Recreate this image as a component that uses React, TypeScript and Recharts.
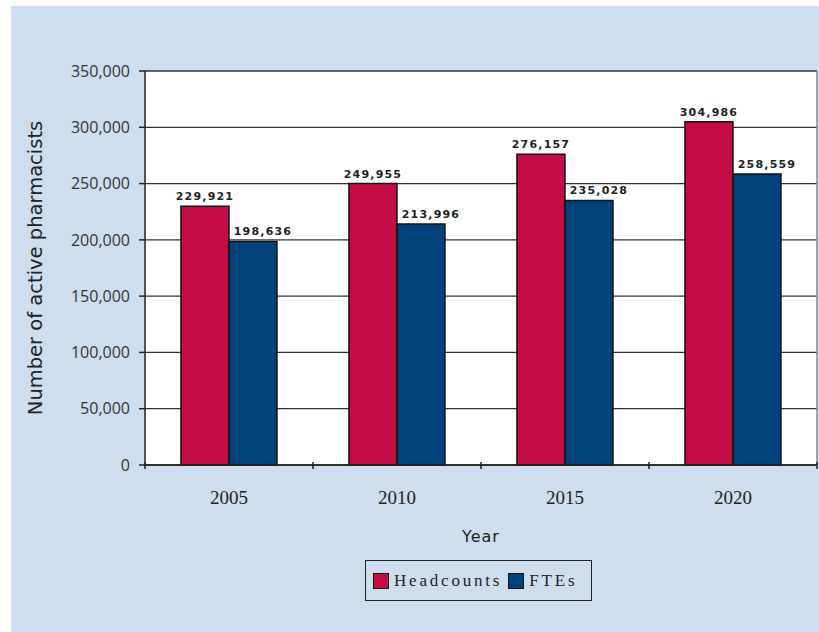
import React from 'react';
import {
  BarChart,
  Bar,
  XAxis,
  YAxis,
  CartesianGrid,
  Legend,
  LabelList,
} from 'recharts';

// values
const years = ['2005', '2010', '2015', '2020'];
const headcounts = [229921, 249955, 276157, 304986];
const ftes = [198636, 213996, 235028, 258559];
const yTicks = [0, 50000, 100000, 150000, 200000, 250000, 300000, 350000];

const series = [
  { key: 'headcounts', name: 'Headcounts', color: '#C50D45', labelShift: 0 },
  { key: 'ftes', name: 'FTEs', color: '#02427A', labelShift: 10 },
];

const data = years.map((year, i) => ({
  year,
  headcounts: headcounts[i],
  ftes: ftes[i],
}));

const fmt = (v: number) => v.toLocaleString('en-US');

// category label plus Excel-style ticks on the band edges
const YearTick = (props: any) => {
  const { x, y, payload, width, visibleTicksCount, index } = props;
  const band = width / visibleTicksCount;
  const left = x - band / 2;
  const right = x + band / 2;
  return (
    <g>
      <line x1={left} x2={left} y1={y - 3} y2={y + 4} stroke="#222" strokeWidth={1.5} />
      {index === visibleTicksCount - 1 && (
        <line x1={right} x2={right} y1={y - 3} y2={y + 4} stroke="#222" strokeWidth={1.5} />
      )}
      <text
        x={x}
        y={y + 32}
        textAnchor="middle"
        dominantBaseline="central"
        fontFamily="'Liberation Serif', serif"
        fontSize={19}
        fill="#222"
      >
        {payload.value}
      </text>
    </g>
  );
};

const ValueLabel = (props: any) => {
  const { x, y, width, value, shift = 0 } = props;
  return (
    <text
      x={x + width / 2 + shift}
      y={y - 6}
      textAnchor="middle"
      fontFamily="'DejaVu Sans', sans-serif"
      fontSize={11}
      fontWeight="bold"
      letterSpacing={1.2}
      fill="#222"
    >
      {fmt(value)}
    </text>
  );
};

const LegendBox = () => (
  <div
    style={{
      boxSizing: 'border-box',
      width: 227,
      height: 41,
      border: '1.5px solid #222',
      display: 'flex',
      alignItems: 'center',
      paddingLeft: 7,
      fontFamily: "'Liberation Serif', serif",
      fontSize: 17,
      letterSpacing: 2.8,
      color: '#222',
    }}
  >
    {series.map((s) => (
      <span key={s.key} style={{ display: 'flex', alignItems: 'center', marginRight: 6 }}>
        <span
          style={{
            display: 'inline-block',
            width: 14,
            height: 14,
            background: s.color,
            border: '1.5px solid #111',
            marginRight: 5,
          }}
        />
        {s.name}
      </span>
    ))}
  </div>
);

export default function App() {
  return (
    <div style={{ position: 'absolute', left: 0, top: 0, width: 819, height: 632, background: '#fff' }}>
      <div
        style={{ position: 'absolute', left: 11, top: 6, right: 0, bottom: 0, background: '#CFDEEE' }}
      />
      <div style={{ position: 'absolute', left: 0, top: 0 }}>
        <BarChart
          width={819}
          height={632}
          data={data}
          margin={{ top: 71, right: 2, left: 0, bottom: 0 }}
          barCategoryGap="21.4%"
          barGap={0}
        >
          <CartesianGrid vertical={false} stroke="#333" strokeWidth={1.3} fill="#fff" fillOpacity={1} />
          <CartesianGrid
            horizontal={false}
            stroke="#888"
            strokeWidth={1.5}
            verticalCoordinatesGenerator={({ offset }: any) => [offset.left + offset.width]}
          />
          <XAxis
            dataKey="year"
            height={167}
            tickLine={false}
            tickSize={0}
            tickMargin={0}
            axisLine={{ stroke: '#222', strokeWidth: 1.5 }}
            tick={<YearTick />}
            interval={0}
            label={({ viewBox }: any) => (
              <text
                x={viewBox.x + viewBox.width / 2}
                y={viewBox.y + 71}
                textAnchor="middle"
                dominantBaseline="central"
                fontFamily="'DejaVu Sans', sans-serif"
                fontSize={16}
                letterSpacing={1}
                fill="#222"
              >
                Year
              </text>
            )}
          />
          <YAxis
            width={145}
            domain={[0, 350000]}
            ticks={yTicks}
            interval={0}
            tickFormatter={fmt}
            tickSize={6}
            tickMargin={9}
            axisLine={{ stroke: '#222', strokeWidth: 1.5 }}
            tickLine={{ stroke: '#222', strokeWidth: 1.5 }}
            tick={{ fontFamily: "'Open Sans', sans-serif", fontSize: 16, fill: '#333' }}
            label={({ viewBox }: any) => (
              <text
                x={viewBox.x + 35}
                y={viewBox.y + viewBox.height / 2}
                transform={`rotate(-90 ${viewBox.x + 35} ${viewBox.y + viewBox.height / 2})`}
                textAnchor="middle"
                dominantBaseline="central"
                fontFamily="'DejaVu Sans', sans-serif"
                fontSize={19.5}
                fill="#222"
              >
                Number of active pharmacists
              </text>
            )}
          />
          <Legend
            layout="horizontal"
            verticalAlign="middle"
            align="center"
            content={<LegendBox />}
            wrapperStyle={{ position: 'absolute', left: 365, top: 560, width: 227, height: 41 }}
          />
          {series.map((s) => (
            <Bar
              key={s.key}
              dataKey={s.key}
              name={s.name}
              fill={s.color}
              stroke="#111"
              strokeWidth={1.5}
              isAnimationActive={false}
            >
              <LabelList dataKey={s.key} content={<ValueLabel shift={s.labelShift} />} />
            </Bar>
          ))}
        </BarChart>
      </div>
    </div>
  );
}
